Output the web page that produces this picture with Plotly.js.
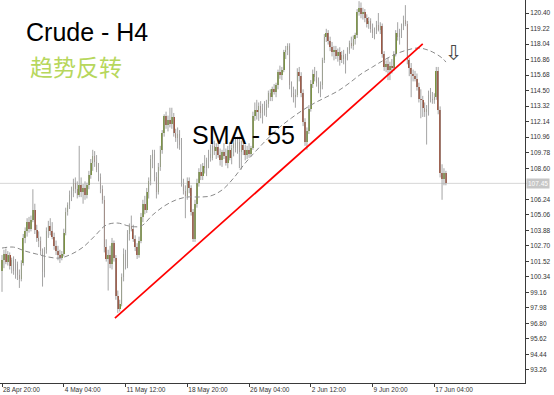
<!DOCTYPE html>
<html>
<head>
<meta charset="utf-8">
<script src="https://cdn.plot.ly/plotly-3.0.1.min.js"></script>
<style>
  html, body { margin: 0; padding: 0; background: #fff; }
  #chart { width: 554px; height: 395px; }
</style>
</head>
<body>
<div id="chart"></div>
<script>
// Crude oil, 4-hour candles (bar index on the x axis, weekends skipped)
const open = [
100.8,101.6,102.1,101.5,102.0,101.2,101.6,100.8,101.3,100.5,100.2,101.4,103.3,103.8,104.5,104.0,104.7,105.4,103.9,103.3,
103.1,102.3,100.7,102.4,103.8,104.2,103.8,103.4,102.7,102.3,102.0,101.8,102.1,103.7,105.3,105.8,106.6,106.9,107.5,107.0,
106.6,107.3,106.8,107.1,106.6,107.3,108.1,109.0,109.5,109.1,108.5,107.9,107.0,106.2,102.6,101.7,102.0,101.3,102.9,101.8,
98.9,97.9,98.3,100.3,102.1,101.2,103.6,104.2,104.0,103.2,102.6,102.0,103.1,104.9,105.9,105.4,106.8,107.6,109.3,109.7,
107.9,106.8,108.7,110.0,111.3,112.6,111.9,112.3,112.0,112.5,111.3,110.9,111.2,110.4,107.4,106.9,106.5,107.6,107.1,105.3,
103.2,105.9,107.5,108.3,108.0,108.8,108.6,109.2,109.7,109.4,110.3,109.9,110.2,109.6,109.2,109.8,109.5,109.0,110.0,109.4,
110.1,110.5,110.1,110.6,109.8,110.4,110.0,109.6,110.0,109.7,110.1,112.6,113.0,112.9,113.3,112.8,113.2,113.0,113.5,114.3,
114.0,114.6,114.4,114.9,115.9,115.7,116.1,117.4,117.6,117.9,114.9,114.3,114.0,114.2,115.9,115.6,114.3,112.1,110.6,111.4,
113.1,115.0,115.8,115.5,115.1,114.6,114.9,116.8,118.6,118.9,118.3,117.8,117.4,117.6,117.1,117.4,116.8,117.2,116.9,117.1,
117.6,118.1,117.9,118.4,118.7,120.5,120.8,120.3,120.5,120.0,119.6,119.8,119.2,118.9,119.1,119.5,119.1,119.4,117.3,116.3,
116.5,116.1,116.4,116.2,117.3,118.9,118.6,118.9,119.4,119.9,119.6,116.8,116.2,115.8,115.6,115.4,114.8,113.9,113.8,113.2,
112.9,113.1,114.2,113.9,113.8,114.0,116.0,113.0,108.2,107.8,108.2
];
const high = [
102.0,102.4,102.5,102.3,102.2,101.8,101.9,101.7,101.5,100.9,101.6,103.6,104.1,104.8,104.9,105.0,107.0,105.9,104.3,103.8,
103.4,102.5,102.6,104.1,104.6,104.8,104.5,103.7,103.1,102.7,102.4,102.3,104.0,105.6,106.0,106.9,107.2,107.8,107.9,107.6,
110.3,107.9,107.4,107.6,107.5,108.4,109.3,110.0,109.9,109.6,109.0,108.2,107.3,106.5,103.2,102.4,102.7,103.3,103.1,102.0,
99.3,98.6,100.6,102.5,102.4,103.9,104.4,105.0,104.3,103.5,102.9,103.4,105.2,106.2,106.5,107.1,107.9,109.6,110.0,110.0,
108.3,109.0,110.3,111.5,112.7,112.9,112.6,113.2,113.2,112.8,111.6,111.7,111.5,110.9,107.8,107.3,107.9,107.9,107.3,105.5,
106.2,107.8,108.6,108.9,109.0,109.6,109.4,110.0,110.4,110.6,110.7,110.5,110.8,110.1,110.0,110.5,110.1,110.3,110.6,110.4,
110.8,110.9,111.0,111.0,110.7,110.8,110.4,110.3,110.5,110.3,112.9,113.6,113.8,113.6,113.7,113.5,113.7,113.8,114.5,114.6,
114.8,115.0,115.1,116.1,116.4,116.3,117.6,117.9,118.1,118.1,115.2,114.8,114.6,116.2,116.3,115.9,114.6,112.4,111.7,113.4,
115.3,116.1,116.3,116.0,115.5,115.2,117.0,118.8,119.2,119.1,118.6,118.2,117.9,117.9,117.7,117.8,117.5,117.6,117.3,117.8,
118.3,118.6,118.7,118.9,120.7,121.3,121.2,120.8,120.7,120.3,120.1,120.0,119.6,119.3,119.8,120.4,119.7,119.6,117.5,116.8,
117.0,116.7,116.9,117.5,119.1,119.7,119.2,119.6,120.2,121.0,119.8,117.0,116.6,116.1,116.0,115.8,115.1,114.6,114.1,113.6,
113.4,114.5,114.7,114.4,114.3,116.3,116.3,113.3,108.9,108.6,108.4
];
const low = [
99.2,101.0,101.3,101.2,100.9,100.6,100.5,100.2,100.1,99.5,100.0,101.2,102.9,103.4,103.7,103.8,104.5,103.6,103.0,102.6,
102.0,99.6,100.3,102.1,103.3,103.5,103.2,102.4,102.0,101.6,101.4,101.6,101.9,103.5,105.0,105.5,106.1,106.4,106.7,106.3,
106.4,106.4,105.9,106.2,106.3,107.0,107.8,108.4,108.7,108.3,107.6,106.7,105.9,102.2,101.5,99.3,101.0,100.9,101.5,98.6,
97.6,97.7,98.1,100.0,100.9,101.0,103.1,103.8,103.0,102.3,101.7,101.8,102.9,104.5,105.1,105.2,106.3,107.3,108.6,107.6,
106.3,106.6,108.4,109.7,111.0,111.6,111.4,111.7,111.6,111.0,110.6,110.1,110.0,107.2,106.6,104.8,106.2,106.7,105.0,103.0,
103.0,105.6,107.2,107.7,107.7,108.2,108.0,108.6,109.1,109.2,109.6,109.3,109.4,108.8,108.7,109.3,108.8,108.6,109.2,108.9,
109.5,109.8,109.7,108.6,108.5,109.6,109.2,109.3,109.4,109.5,110.0,112.2,112.3,112.2,112.4,112.0,112.6,112.5,113.2,113.7,
113.7,114.2,114.0,114.6,115.4,115.3,115.9,116.9,117.2,114.6,114.0,113.6,113.2,114.0,115.2,114.0,111.8,110.3,110.0,111.2,
112.9,114.7,115.2,114.8,114.3,114.0,114.6,116.6,118.2,118.0,117.5,117.1,116.8,116.9,116.7,116.4,116.6,116.5,115.8,116.8,
117.3,117.7,117.6,118.0,118.5,120.2,120.0,119.9,119.7,119.3,119.2,118.9,118.5,118.4,118.8,119.0,118.8,117.0,116.0,115.9,
115.3,115.3,115.8,116.0,117.1,118.3,118.0,118.5,119.1,119.4,116.5,115.6,114.0,115.2,115.2,114.5,113.6,112.4,112.5,112.5,
110.4,112.6,113.6,113.5,113.5,113.8,112.7,107.9,106.2,107.3,107.3
];
const close = [
101.6,102.1,101.5,102.0,101.2,101.6,100.8,101.3,100.5,100.2,101.4,103.3,103.8,104.5,104.0,104.7,105.4,103.9,103.3,103.1,
102.3,100.7,102.4,103.8,104.2,103.8,103.4,102.7,102.3,102.0,101.8,102.1,103.7,105.3,105.8,106.6,106.9,107.5,107.0,106.6,
107.3,106.8,107.1,106.6,107.3,108.1,109.0,109.5,109.1,108.5,107.9,107.0,106.2,102.6,101.7,102.0,101.3,102.9,101.8,98.9,
97.9,98.3,100.3,102.1,101.2,103.6,104.2,104.0,103.2,102.6,102.0,103.1,104.9,105.9,105.4,106.8,107.6,109.3,109.7,107.9,
106.8,108.7,110.0,111.3,112.6,111.9,112.3,112.0,112.5,111.3,110.9,111.2,110.4,107.4,106.9,106.5,107.6,107.1,105.3,103.2,
105.9,107.5,108.3,108.0,108.8,108.6,109.2,109.7,109.4,110.3,109.9,110.2,109.6,109.2,109.8,109.5,109.0,110.0,109.4,110.1,
110.5,110.1,110.6,109.8,110.4,110.0,109.6,110.0,109.7,110.1,112.6,113.0,112.9,113.3,112.8,113.2,113.0,113.5,114.3,114.0,
114.6,114.4,114.9,115.9,115.7,116.1,117.4,117.6,117.9,114.9,114.3,114.0,114.2,115.9,115.6,114.3,112.1,110.6,111.4,113.1,
115.0,115.8,115.5,115.1,114.6,114.9,116.8,118.6,118.9,118.3,117.8,117.4,117.6,117.1,117.4,116.8,117.2,116.9,117.1,117.6,
118.1,117.9,118.4,118.7,120.5,120.8,120.3,120.5,120.0,119.6,119.8,119.2,118.9,119.1,119.5,119.1,119.4,117.3,116.3,116.5,
116.1,116.4,116.2,117.3,118.9,118.6,118.9,119.4,119.9,119.6,116.8,116.2,115.8,115.6,115.4,114.8,113.9,113.8,113.2,112.9,
113.1,114.2,113.9,113.8,114.0,116.0,113.0,108.2,107.8,108.2,107.45
];

// 55-period simple moving average of the closes, sampled every 6 bars
const smaIdx = [0,6,12,18,24,30,36,42,48,54,60,66,72,78,84,90,96,102,108,114,120,126,132,138,144,150,156,162,168,174,180,186,192,198,204,210,216,222,228,230];
const smaVal = [102.53,102.6,102.3,102.07,101.85,101.77,102.07,102.6,103.44,104.28,104.43,104.2,104.2,105.04,105.72,106.18,106.41,106.41,106.49,106.94,
107.85,108.99,109.98,110.9,111.73,112.42,113.03,113.56,114.01,114.47,115.08,115.76,116.3,116.83,117.28,117.59,117.74,117.51,116.98,116.67];

// Hand-drawn support line
const trendIdx = [58.5, 218];
const trendPrice = [97.2, 118.05];

const lastPrice = 107.45;

// Time labels on the bar-index axis
const timeTickIdx = [0, 32, 64, 96, 128, 160, 192, 224];
const timeTickText = ['28 Apr 20:00','4 May 04:00','11 May 12:00','18 May 20:00','26 May 04:00','2 Jun 12:00','9 Jun 20:00','17 Jun 04:00'];

// Price grid labels
const priceTicks = [120.40,119.22,118.04,116.86,115.68,114.50,113.32,112.14,110.96,109.78,108.60,106.24,105.06,103.88,102.70,101.52,100.34,99.16,97.98,96.80,95.62,94.44,93.26];

const idx = close.map((_, i) => i);

// wicks: one vertical segment per bar
const wx = [], wy = [];
idx.forEach(i => { wx.push(i, i, null); wy.push(low[i], high[i], null); });

const UP = '#6c8c1f', DOWN = '#9a3c20';
const bodyBase = idx.map(i => Math.min(open[i], close[i]));
const bodyLen = idx.map(i => Math.max(Math.abs(close[i] - open[i]), 0.06));
const bodyCol = idx.map(i => close[i] >= open[i] ? UP : DOWN);

const traces = [
  { type: 'scatter', mode: 'lines', x: wx, y: wy, line: { color: '#a4a4a4', width: 1 }, hoverinfo: 'skip' },
  { type: 'bar', x: idx, base: bodyBase, y: bodyLen, width: 0.8,
    marker: { color: bodyCol, line: { width: 0 } }, hoverinfo: 'skip' },
  { type: 'scatter', mode: 'lines', x: smaIdx, y: smaVal, line: { color: '#8a8a8a', width: 1, dash: '5px,3px', shape: 'spline' }, hoverinfo: 'skip' },
  { type: 'scatter', mode: 'lines', x: trendIdx, y: trendPrice, line: { color: '#ff0000', width: 1.7 }, hoverinfo: 'skip' }
];

const W = 525, H = 383;
const px = v => v / W, py = v => 1 - v / H;
const tickFont = { family: 'Liberation Sans, Arial, sans-serif', size: 6.5, color: '#333' };

const layout = {
  width: 554, height: 395,
  margin: { l: 0, r: 29, t: 0, b: 12, pad: 0 },
  paper_bgcolor: '#ffffff', plot_bgcolor: '#ffffff',
  showlegend: false, bargap: 0,
  xaxis: {
    range: [-1.04, 270.98], showgrid: false, zeroline: false,
    showline: true, linecolor: '#3a3a3a', linewidth: 1,
    ticks: 'outside', ticklen: 3, tickcolor: '#3a3a3a',
    tickvals: timeTickIdx, ticktext: timeTickText,
    ticklabelposition: 'outside right', tickfont: tickFont, fixedrange: true
  },
  yaxis: {
    side: 'right', range: [92.27, 121.39], showgrid: false, zeroline: false,
    showline: true, linecolor: '#3a3a3a', linewidth: 1,
    ticks: 'outside', ticklen: 3, tickcolor: '#3a3a3a',
    tickvals: priceTicks, ticktext: priceTicks.map(v => v.toFixed(2)),
    tickfont: tickFont, fixedrange: true
  },
  shapes: [
    { type: 'line', xref: 'paper', yref: 'y', x0: 0, x1: 1.03, y0: lastPrice, y1: lastPrice,
      line: { color: '#d6d6d6', width: 1 }, layer: 'below' }
  ],
  annotations: [
    { xref: 'paper', yref: 'y', x: 1, y: lastPrice, xanchor: 'left', yanchor: 'middle', xshift: 1,
      text: lastPrice.toFixed(2), showarrow: false, bgcolor: '#c6c6c6', borderpad: 1,
      font: { family: 'Liberation Sans, Arial, sans-serif', size: 6.5, color: '#ffffff' } },
    { xref: 'paper', yref: 'paper', x: px(24), y: py(32), xanchor: 'left', yanchor: 'middle',
      text: 'Crude - H4', showarrow: false,
      font: { family: 'Liberation Sans, Arial, sans-serif', size: 25, color: '#000000' } },
    { xref: 'paper', yref: 'paper', x: px(28), y: py(66), xanchor: 'left', yanchor: 'middle',
      text: '趋势反转', showarrow: false,
      font: { family: 'Noto Sans CJK SC, sans-serif', size: 23, color: '#b7d75c' } },
    { xref: 'paper', yref: 'paper', x: px(243), y: py(135), xanchor: 'center', yanchor: 'middle',
      text: 'SMA - 55', showarrow: false,
      font: { family: 'Liberation Sans, Arial, sans-serif', size: 25, color: '#000000' } },
    { xref: 'paper', yref: 'paper', x: px(454), y: py(53), xanchor: 'center', yanchor: 'middle',
      text: '⇩', showarrow: false,
      font: { family: 'DejaVu Sans, sans-serif', size: 21, color: '#4a4a4a' } }
  ]
};

Plotly.newPlot('chart', traces, layout, { staticPlot: true, displayModeBar: false });
</script>
</body>
</html>
